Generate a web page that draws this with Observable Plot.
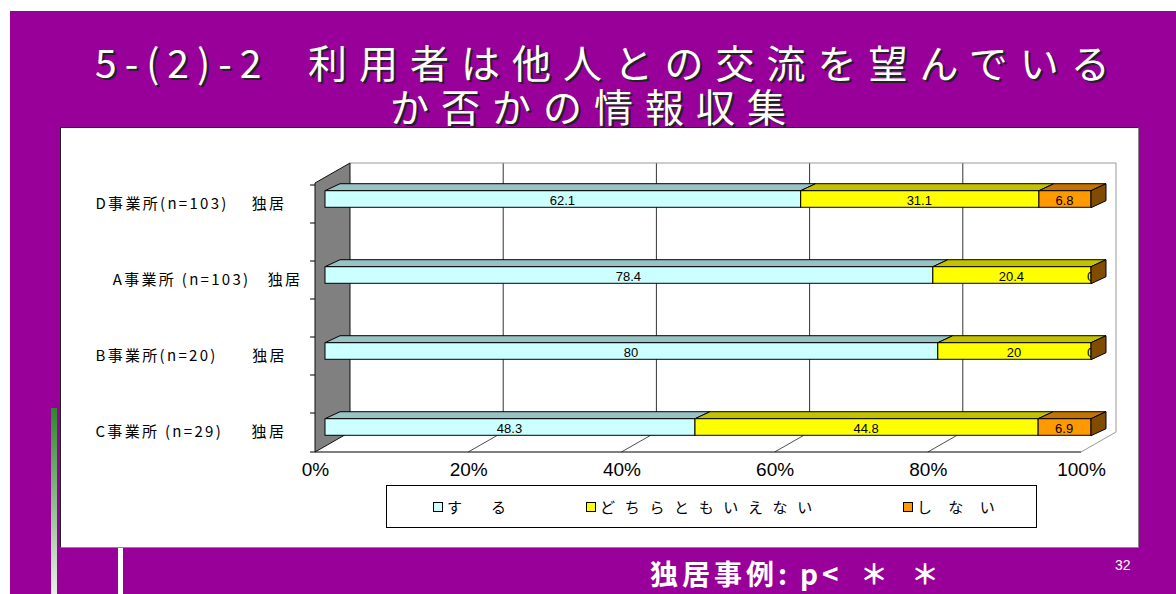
<!DOCTYPE html>
<html><head><meta charset="utf-8">
<script src="https://cdn.jsdelivr.net/npm/d3@7"></script>
<script src="https://cdn.jsdelivr.net/npm/@observablehq/plot@0.6"></script>
<style>
html,body{margin:0;padding:0;width:1176px;height:594px;overflow:hidden;background:#fff;font-family:"Noto Sans CJK JP","Liberation Sans",sans-serif;}
.abs{position:absolute;}
#bg{left:10px;top:11px;width:1166px;height:583px;background:#990099;}
#panel{left:60px;top:127px;width:1077px;height:419px;background:#fff;border:1px solid #222;border-right-color:#888;border-bottom-color:#888;}
.title{color:#fff;font-size:39px;letter-spacing:12px;white-space:nowrap;text-shadow:2px 2px 0 #222;line-height:39px;}
#legend{left:386px;top:485px;width:649px;height:41px;border:1px solid #000;background:#fff;}
.li{position:absolute;top:12px;font-size:15px;line-height:17px;white-space:nowrap;color:#000;}
.sw{display:inline-block;width:8px;height:8px;border:1px solid #000;margin-right:4px;vertical-align:1px;}
.foot{top:559px;color:#fff;font-weight:bold;font-size:28px;line-height:1;white-space:nowrap;letter-spacing:4px;}
#pg{left:1115px;top:557px;color:#fff;font-size:14px;font-family:"Liberation Sans",sans-serif;}
#green{left:51px;top:408px;width:6px;height:186px;background:linear-gradient(#2a8a2a,#e8f0e8);}
#wline{left:118px;top:548px;width:5px;height:46px;background:#fff;}
[aria-label="seg-labels"] text{letter-spacing:1.5px;}
[aria-label="y-axis tick label"] text{letter-spacing:2.3px;}
</style>
</head><body>
<div id="bg" class="abs"></div>
<div id="green" class="abs"></div>
<div id="wline" class="abs"></div>
<div id="panel" class="abs"></div>
<div class="abs title" style="left:95px;top:42px;letter-spacing:8px;">5-(2)-2</div>
<div class="abs title" style="left:308px;top:42px;">利用者は他人との交流を望んでいる</div>
<div class="abs title" style="left:390px;top:86px;">か否かの情報収集</div>
<div id="legend" class="abs"></div>
<div class="abs foot" style="left:650px;">独居事例:</div>
<div class="abs foot" style="left:800px;">p&lt;</div>
<div class="abs foot" style="left:860px;">＊</div>
<div class="abs foot" style="left:911px;">＊</div>
<div id="pg" class="abs">32</div>
<script>
// ---- data ----
const categories = ["D事業所(n=103)", "A事業所 (n=103)", "B事業所(n=20)", "C事業所 (n=29)"];
const tickLabels = [
  "D事業所(n=103)\u3000\u00a0独居",
  "\u3000A事業所 (n=103)\u3000独居",
  "B事業所(n=20)\u3000\u3000独居",
  "C事業所 (n=29)\u3000\u00a0\u00a0独居"
];
const responses = ["する", "どちらともいえない", "しない"];
const valuesSuru = [62.1, 78.4, 80, 48.3];
const valuesDochira = [31.1, 20.4, 20, 44.8];
const valuesShinai = [6.8, 0, 0, 6.9];
const xTicks = [0, 0.2, 0.4, 0.6, 0.8, 1];
const legendLabels = ["す\u3000る", "どちらともいえない", "し\u00a0な\u00a0い"];

// ---- styles ----
const frontColors = ["#CCFFFF", "#FFFF00", "#FF9900"];
const topColors = ["#99C2C2", "#C2C200", "#C27300"];
const sideColor = "#804D00";
const W = 1176, H = 594;
const M = {top: 183, right: 95, bottom: 142, left: 315};
const depth = {x: 35, y: -20};
const barOff = {x: 10, y: -5};
const barDepth = {x: 15, y: -7};
const faceH = 17;

const seriesValues = [valuesSuru, valuesDochira, valuesShinai];
const slots = categories.flatMap((c, i) => i ? ["gap" + i, c] : [c]);
const bw = (H - M.top - M.bottom) / slots.length;
const inset = (bw - faceH) / 2;
const labelOf = new Map(categories.map((c, i) => [c, tickLabels[i]]));

const rows = categories.flatMap((c, i) => responses.map((r, j) => ({cat: c, resp: r, j, value: seriesValues[j][i]})));
const stacks = categories.flatMap((c, i) => {
  const tot = d3.sum(seriesValues, s => s[i]);
  let acc = 0;
  return responses.map((r, j) => {
    const x1 = acc / tot; acc += seriesValues[j][i];
    return {cat: c, j, x1, x2: acc / tot, value: seriesValues[j][i]};
  });
});
const pts = a => a.map(p => p.join(",")).join(" ");

function frameMark(index, scales, values, dim) {
  const sx = scales.x, sy = scales.y;
  const x0 = sx(0), x1 = sx(1);
  const yT = dim.marginTop, yB = dim.height - dim.marginBottom;
  const g = d3.create("svg:g");
  g.append("polygon").attr("points", pts([[x0, yB], [x1, yB], [x1 + depth.x, yB + depth.y], [x0 + depth.x, yB + depth.y]])).attr("fill", "#fff");
  for (const t of xTicks) {
    if (t > 0 && t < 1) {
      const bx = sx(t) + depth.x;
      g.append("line").attr("x1", bx).attr("x2", bx).attr("y1", yT + depth.y).attr("y2", yB + depth.y).attr("stroke", "#333");
      g.append("line").attr("x1", sx(t)).attr("y1", yB).attr("x2", sx(t) + depth.x).attr("y2", yB + depth.y).attr("stroke", "#222").attr("stroke-width", 0.8);
    }
  }
  g.append("polyline").attr("points", pts([[x0 + depth.x, yT + depth.y], [x1 + depth.x, yT + depth.y], [x1 + depth.x, yB + depth.y], [x1, yB]])).attr("fill", "none").attr("stroke", "#999");
  g.append("line").attr("x1", x0).attr("x2", x1).attr("y1", yB).attr("y2", yB).attr("stroke", "#000");
  g.append("polygon").attr("points", pts([[x0, yT], [x0 + depth.x, yT + depth.y], [x0 + depth.x, yB + depth.y], [x0, yB]])).attr("fill", "#808080").attr("stroke", "#111");
  const ys = slots.map(s => sy(s)).concat([yB]);
  for (const y of ys) g.append("line").attr("x1", x0 - 5).attr("x2", x0).attr("y1", y).attr("y2", y).attr("stroke", "#000");
  return g.node();
}
function topMark(index, scales) {
  const sx = scales.x, sy = scales.y;
  const g = d3.create("svg:g");
  for (const s of stacks) {
    if (s.value <= 0) continue;
    const y0 = sy(s.cat) + inset + barOff.y;
    const xa = sx(s.x1) + barOff.x, xb = sx(s.x2) + barOff.x;
    g.append("polygon").attr("points", pts([[xa, y0], [xb, y0], [xb + barDepth.x, y0 + barDepth.y], [xa + barDepth.x, y0 + barDepth.y]]))
      .attr("fill", topColors[s.j]).attr("stroke", "#000").attr("stroke-linejoin", "round");
  }
  return g.node();
}
function sideMark(index, scales) {
  const sx = scales.x, sy = scales.y;
  const g = d3.create("svg:g");
  for (const c of categories) {
    const y0 = sy(c) + inset + barOff.y;
    const xb = sx(1) + barOff.x;
    g.append("polygon").attr("points", pts([[xb, y0], [xb + barDepth.x, y0 + barDepth.y], [xb + barDepth.x, y0 + barDepth.y + faceH], [xb, y0 + faceH]]))
      .attr("fill", sideColor).attr("stroke", "#000");
  }
  return g.node();
}

const chart = Plot.plot({
  width: W, height: H,
  marginTop: M.top, marginRight: M.right, marginBottom: M.bottom, marginLeft: M.left,
  style: {background: "transparent", fontFamily: "'Liberation Sans', Arial, sans-serif", color: "#000", overflow: "visible"},
  x: {domain: [0, 1], label: null},
  y: {type: "band", domain: slots, padding: 0, label: null},
  color: {domain: responses, range: frontColors},
  marks: [
    frameMark,
    topMark,
    Plot.barX(rows.filter(d => d.value > 0), Plot.stackX({x: "value", y: "cat", z: "resp", fill: "resp", offset: "normalize", stroke: "#000", strokeWidth: 1, insetTop: inset, insetBottom: inset, dx: barOff.x, dy: barOff.y})),
    Plot.text(rows, Plot.stackX({x: "value", y: "cat", z: "resp", text: d => String(d.value), offset: "normalize", dx: barOff.x - 1, dy: barOff.y + 1, fontSize: 13, fill: "#000", ariaLabel: "seg-labels"})),
    sideMark,
    Plot.axisX({anchor: "bottom", ticks: xTicks, tickFormat: d3.format(".0%"), tickSize: 0, tickPadding: 10, fontSize: 19, label: null}),
    Plot.axisY({anchor: "left", ticks: categories, tickFormat: c => labelOf.get(c), tickSize: 0, tickPadding: 220, textAnchor: "start", fontSize: 15, fontFamily: "'Noto Sans CJK JP', sans-serif", label: null})
  ]
});
chart.style.position = "absolute";
chart.style.left = "0px"; chart.style.top = "0px";
document.body.appendChild(chart);

// legend
const legend = document.getElementById("legend");
const legendX = [46, 199, 516];
const legendSpacing = ["7px", "9.7px", "6.5px"];
responses.forEach((r, j) => {
  const d = document.createElement("div");
  d.className = "li";
  d.style.left = legendX[j] + "px";
  d.style.letterSpacing = legendSpacing[j];
  d.innerHTML = `<span class="sw" style="background:${frontColors[j]}"></span>${legendLabels[j]}`;
  legend.appendChild(d);
});
</script>
</body></html>
